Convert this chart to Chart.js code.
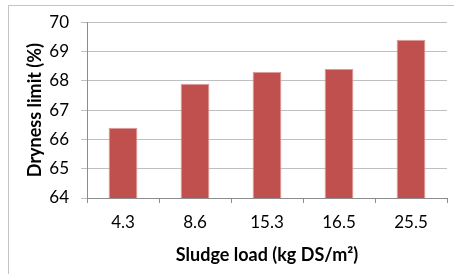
<!DOCTYPE html>
<html>
<head>
<meta charset="utf-8">
<script src="https://cdn.jsdelivr.net/npm/chart.js@4"></script>
<style>
    html, body { margin: 0; padding: 0; background: #fff; overflow: hidden; }
    #frame {
        position: absolute; left: 8px; top: 5px; width: 520px; height: 320px;
        border: 1px solid #c4c4c4; box-sizing: border-box;
    }
    #chart { position: absolute; left: 0; top: 0; }
</style>
</head>
<body>
<div id="frame"></div>
<canvas id="chart" width="454" height="274"></canvas>
<script>
// ================= DATA =================

const loads = ["4.3", "8.6", "15.3", "16.5", "25.5"];
const dryness = [66.4, 67.9, 68.3, 68.4, 69.4];
const yTicks = [64, 65, 66, 67, 68, 69, 70];

const FONT = "Lato, 'Open Sans', sans-serif";

// ================= CHART =================

new Chart(document.getElementById("chart"), {
    type: "bar",
    data: {
        labels: loads,
        datasets: [{
            data: dryness,
            backgroundColor: "#c0504d",
            borderColor: "#dc9c9a",
            borderWidth: 1,
            categoryPercentage: 1,
            barPercentage: 0.4,
        }],
    },
    options: {
        responsive: false,
        animation: false,
        layout: { padding: { top: 22, right: 7, bottom: 0, left: 0 } },
        plugins: { legend: { display: false }, tooltip: { enabled: false } },
        scales: {
            x: {
                grid: {
                    offset: true,
                    drawOnChartArea: false,
                    drawTicks: true,
                    tickLength: 5,
                    color: "#8c8c8c",
                },
                border: { color: "#8c8c8c" },
                ticks: { color: "#000", padding: 9, font: { family: FONT, size: 17 } },
                title: {
                    display: true,
                    text: "Sludge load (kg DS/m²)",
                    color: "#000",
                    font: { family: FONT, size: 18, weight: "bold" },
                    padding: { top: 0, bottom: 8 },
                },
                afterFit: (s) => { s.height = 76; },
            },
            y: {
                min: yTicks[0],
                max: yTicks[yTicks.length - 1],
                afterBuildTicks: (s) => { s.ticks = yTicks.map((v) => ({ value: v })); },
                grid: { color: "#bfbfbf", tickLength: 6 },
                border: { color: "#8c8c8c" },
                ticks: { color: "#000", padding: 12, font: { family: FONT, size: 17 } },
                title: {
                    display: true,
                    text: "Dryness limit (%)",
                    color: "#000",
                    font: { family: FONT, size: 18, weight: "bold" },
                    padding: { top: 24, bottom: 0 },
                },
                afterFit: (s) => { s.width = 87; },
            },
        },
    },
});
</script>
</body>
</html>
